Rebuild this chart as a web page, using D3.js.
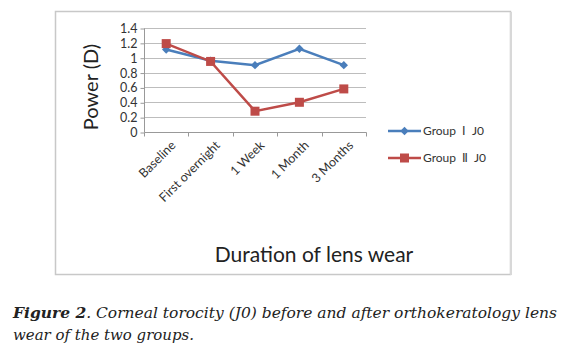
<!DOCTYPE html>
<html>
<head>
<meta charset="utf-8">
<script src="https://cdn.jsdelivr.net/npm/d3@7"></script>
<style>
  body { margin: 0; background: #fff; }
  svg { display: block; }
</style>
</head>
<body>
<div id="chart"></div>
<script>
// data
const categories = ["Baseline", "First overnight", "1 Week", "1 Month", "3 Months"];
const groupI = [1.11, 0.96, 0.90, 1.12, 0.90];
const groupII = [1.19, 0.95, 0.28, 0.40, 0.58];
const yTicks = [0, 0.2, 0.4, 0.6, 0.8, 1, 1.2, 1.4];
const seriesNames = ["Group \u2160 J0", "Group \u2161 J0"];

const width = 567, height = 353;
const chartFont = "Lato, 'Open Sans', sans-serif";

const svg = d3.select("#chart").append("svg")
    .attr("width", width)
    .attr("height", height);

// chart frame
svg.append("rect")
    .attr("x", 55.5).attr("y", 11.5)
    .attr("width", 455).attr("height", 263)
    .attr("fill", "#fff")
    .attr("stroke", "#c8c8c8")
    .attr("stroke-width", 1.5);
svg.append("line")
    .attr("x1", 511).attr("x2", 511).attr("y1", 12).attr("y2", 275)
    .attr("stroke", "#d8d8d8").attr("stroke-width", 2);

const x = d3.scaleBand().domain(categories).range([144, 366]);
const y = d3.scaleLinear().domain([0, 1.4]).range([132, 28]);

// gridlines
svg.append("g")
    .selectAll("line")
    .data(yTicks.slice(1))
    .enter().append("line")
    .attr("x1", 144).attr("x2", 366)
    .attr("y1", d => Math.round(y(d)) + 0.5)
    .attr("y2", d => Math.round(y(d)) + 0.5)
    .attr("stroke", "#bdbdbd");

// y axis
const yAxis = svg.append("g")
    .attr("transform", "translate(144.5,0.5)")
    .call(d3.axisLeft(y).tickValues(yTicks).tickSize(4).tickPadding(3)
        .tickFormat(d3.format("~g")));
yAxis.select(".domain").attr("stroke", "#999").attr("d", "M0," + y(1.4) + "V" + y(0));
yAxis.selectAll(".tick line").attr("stroke", "#999");
yAxis.selectAll("text")
    .style("font-family", chartFont)
    .style("font-size", "12.5px")
    .attr("fill", "#333");

// x axis
const xAxis = svg.append("g")
    .attr("transform", "translate(0.5,132.5)");
xAxis.append("line")
    .attr("x1", 144).attr("x2", 366)
    .attr("stroke", "#999");
xAxis.selectAll(".tk")
    .data(categories.concat(["end"]))
    .enter().append("line")
    .attr("x1", (d, i) => Math.round(144 + i * x.step()))
    .attr("x2", (d, i) => Math.round(144 + i * x.step()))
    .attr("y1", 0).attr("y2", 4)
    .attr("stroke", "#999");

svg.append("g")
    .selectAll("text")
    .data(categories)
    .enter().append("text")
    .attr("transform", d => "translate(" + (x(d) + x.bandwidth() / 2 + 4) + ",140) rotate(-45)")
    .attr("text-anchor", "end")
    .attr("dy", "0.7em")
    .style("font-family", chartFont)
    .style("font-size", "12.5px")
    .attr("fill", "#333")
    .text(d => d);

// axis titles
svg.append("text")
    .attr("transform", "translate(98,87) rotate(-90)")
    .attr("text-anchor", "middle")
    .style("font-family", chartFont)
    .style("font-size", "20px")
    .attr("fill", "#222")
    .text("Power (D)");

svg.append("text")
    .attr("x", 314).attr("y", 262)
    .attr("text-anchor", "middle")
    .style("font-family", chartFont)
    .style("font-size", "21px")
    .attr("fill", "#222")
    .text("Duration of lens wear");

// lines
const cx = d => x(d) + x.bandwidth() / 2;
const line = d3.line()
    .x((d, i) => cx(categories[i]))
    .y(d => y(d));

const blue = "#4a7ebb", red = "#be4b48";

svg.append("path")
    .datum(groupI)
    .attr("d", line)
    .attr("fill", "none")
    .attr("stroke", blue)
    .attr("stroke-width", 2.5);

svg.append("path")
    .datum(groupII)
    .attr("d", line)
    .attr("fill", "none")
    .attr("stroke", red)
    .attr("stroke-width", 2.5);

const diamond = d3.symbol().type(d3.symbolDiamond2).size(45);

svg.append("g")
    .selectAll("path")
    .data(groupI)
    .enter().append("path")
    .attr("transform", (d, i) => "translate(" + cx(categories[i]) + "," + y(d) + ")")
    .attr("d", diamond)
    .attr("fill", blue);

svg.append("g")
    .selectAll("rect")
    .data(groupII)
    .enter().append("rect")
    .attr("x", (d, i) => cx(categories[i]) - 4.5)
    .attr("y", d => y(d) - 4.5)
    .attr("width", 9).attr("height", 9)
    .attr("fill", red);

// legend
const legend = svg.append("g");
const legendColors = [blue, red];
legend.selectAll("g")
    .data(seriesNames)
    .enter().append("g")
    .attr("transform", (d, i) => "translate(0," + (131 + i * 27) + ")")
    .each(function(d, i) {
        const g = d3.select(this);
        g.append("line")
            .attr("x1", 388).attr("x2", 421)
            .attr("stroke", legendColors[i])
            .attr("stroke-width", 2.5);
        if (i === 0) {
            g.append("path")
                .attr("transform", "translate(404.5,0)")
                .attr("d", diamond)
                .attr("fill", legendColors[i]);
        } else {
            g.append("rect")
                .attr("x", 400).attr("y", -4.5)
                .attr("width", 9).attr("height", 9)
                .attr("fill", legendColors[i]);
        }
        g.append("text")
            .attr("x", 423)
            .attr("dy", "0.35em")
            .style("font-family", chartFont)
            .style("font-size", "12px")
            .style("white-space", "pre")
            .attr("fill", "#333")
            .text(d.replace(" \u2160 ", "  \u2160  ").replace(" \u2161 ", "  \u2161  "));
    });

// caption
const captionFont = "'DejaVu Serif', serif";
const caption = svg.append("text")
    .attr("x", 13).attr("y", 318)
    .attr("textLength", 544)
    .attr("lengthAdjust", "spacingAndGlyphs")
    .style("font-family", captionFont)
    .style("font-size", "14px")
    .style("font-style", "italic")
    .attr("fill", "#222");
caption.append("tspan").style("font-weight", "bold").text("Figure 2");
caption.append("tspan").text(". Corneal torocity (J0) before and after orthokeratology lens");

svg.append("text")
    .attr("x", 13).attr("y", 340)
    .attr("textLength", 181)
    .attr("lengthAdjust", "spacingAndGlyphs")
    .style("font-family", captionFont)
    .style("font-size", "14px")
    .style("font-style", "italic")
    .attr("fill", "#222")
    .text("wear of the two groups.");
</script>
</body>
</html>
